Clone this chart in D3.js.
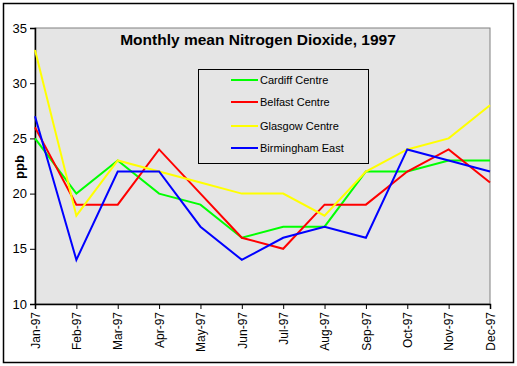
<!DOCTYPE html>
<html><head><meta charset="utf-8">
<script src="https://cdn.jsdelivr.net/npm/d3@7"></script>
<style>body{margin:0;background:#fff}svg{display:block}</style>
</head><body>
<script>
const months = ["Jan-97","Feb-97","Mar-97","Apr-97","May-97","Jun-97","Jul-97","Aug-97","Sep-97","Oct-97","Nov-97","Dec-97"];
const seriesNames = ["Cardiff Centre","Belfast Centre","Glasgow Centre","Birmingham East"];
const cardiff = [25,20,23,20,19,16,17,17,22,22,23,23];
const belfast = [26,19,19,24,20,16,15,19,19,22,24,21];
const glasgow = [33,18,23,22,21,20,20,18,22,24,25,28];
const birmingham = [27,14,22,22,17,14,16,17,16,24,23,22];
const colors = ["#00ff00","#ff0000","#ffff00","#0000ff"];
const yTicks = [10,15,20,25,30,35];
const series = [cardiff, belfast, glasgow, birmingham];

const W = 517, H = 366;
const svg = d3.select("body").append("svg").attr("width", W).attr("height", H);
svg.append("rect").attr("x",3.5).attr("y",3.5).attr("width",510).attr("height",359)
  .attr("fill","#fff").attr("stroke","#000").attr("stroke-width",1.5);

const L = 35, R = 490, T = 28, B = 304;
const x = d3.scalePoint().domain(months).range([L, R]);
const y = d3.scaleLinear().domain([10,35]).range([B, T]);

svg.append("rect").attr("x",L).attr("y",T).attr("width",R-L).attr("height",B-T)
  .attr("fill","#e5e5e5").attr("stroke","#808080").attr("stroke-width",1);

const font = "Arial, 'Liberation Sans', sans-serif";

const yAxis = svg.append("g").attr("transform",`translate(${L},0)`)
  .call(d3.axisLeft(y).tickValues(yTicks).tickSize(5).tickPadding(3).tickFormat(d3.format("d")));
yAxis.select(".domain").attr("stroke","#000").attr("stroke-width",1.5);
yAxis.selectAll(".tick line").attr("stroke","#000");
yAxis.selectAll("text").attr("font-family",font).attr("font-size",13).attr("fill","#000");

const xAxis = svg.append("g").attr("transform",`translate(0,${B})`)
  .call(d3.axisBottom(x).tickSize(5).tickPadding(3));
xAxis.select(".domain").attr("stroke","#000").attr("stroke-width",1.5);
xAxis.selectAll(".tick line").attr("stroke","#000");
xAxis.selectAll("text").attr("font-family",font).attr("font-size",12).attr("fill","#000")
  .attr("transform","rotate(-90)").attr("text-anchor","end").attr("dy","0.35em").attr("x",-8).attr("y",0);

const line = d3.line().x((d,i)=>x(months[i])).y(d=>y(d));
series.forEach((s,k)=>{
  svg.append("path").datum(s).attr("d",line).attr("fill","none")
    .attr("stroke",colors[k]).attr("stroke-width",2);
});

svg.append("text").attr("x",258).attr("y",45).attr("text-anchor","middle")
  .attr("font-family",font).attr("font-size",15.5).attr("font-weight","bold").text("Monthly mean Nitrogen Dioxide, 1997");

svg.append("text").attr("transform","translate(24,167) rotate(-90)").attr("text-anchor","middle")
  .attr("font-family",font).attr("font-size",13).attr("font-weight","bold").text("ppb");

const lg = svg.append("g");
lg.append("rect").attr("x",198.5).attr("y",69.5).attr("width",170).attr("height",94)
  .attr("fill","#e5e5e5").attr("stroke","#000").attr("stroke-width",1);
const rowY = [80,102,126,148];
seriesNames.forEach((n,k)=>{
  lg.append("line").attr("x1",231).attr("x2",258).attr("y1",rowY[k]).attr("y2",rowY[k])
    .attr("stroke",colors[k]).attr("stroke-width",2);
  lg.append("text").attr("x",260).attr("y",rowY[k]).attr("dy","0.35em")
    .attr("font-family",font).attr("font-size",11).text(n);
});
</script>
</body></html>
